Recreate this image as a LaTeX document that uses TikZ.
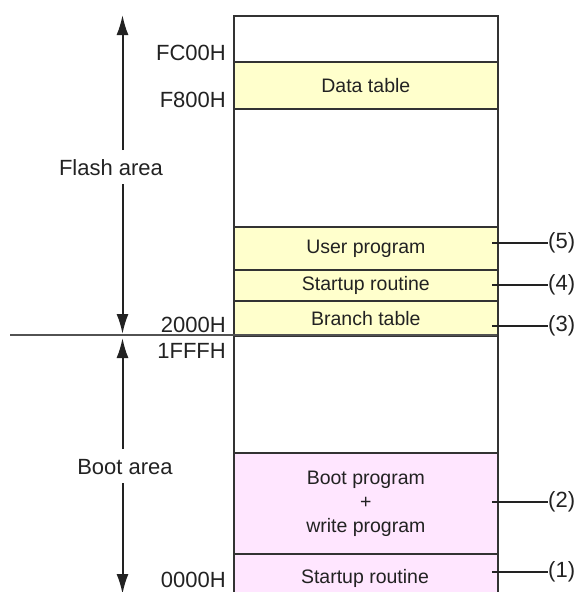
\documentclass[tikz,border=0pt]{standalone}
\usepackage{fontspec}
\setmainfont{Liberation Sans}
\usetikzlibrary{arrows.meta}
\definecolor{flashfill}{HTML}{FFFFCC}
\definecolor{bootfill}{HTML}{FFE6FF}
\definecolor{edge}{HTML}{333333}
\definecolor{ink}{HTML}{222222}
\begin{document}
\begin{tikzpicture}[x=1pt,y=-1pt,
  region/.style={draw=edge,line width=1.7pt,minimum width=264pt,anchor=north west,
    inner sep=0pt,align=center,text=ink,font=\fontsize{19.5}{24}\selectfont},
  addr/.style={anchor=east,inner sep=0pt,text=ink,font=\fontsize{22}{24}\selectfont},
  tag/.style={anchor=west,inner sep=0pt,text=ink,font=\fontsize{22}{24}\selectfont},
  arealabel/.style={inner sep=0pt,text=ink,font=\fontsize{22}{24}\selectfont},
  span/.style={line width=2pt,draw=ink,-{Latex[length=20pt,width=12pt]}},
  leader/.style={line width=1.8pt,draw=ink}]
\useasboundingbox (0,0) rectangle (584,592);
\begin{scope}
\clip (0,0) rectangle (584,592);
% memory map, top to bottom
\node[region,minimum height=46pt] (top) at (233,15) {};
\node[region,minimum height=47pt,fill=flashfill] (data) at (233,61) {Data table};
\node[region,minimum height=118pt] (gapA) at (233,108) {};
\node[region,minimum height=43pt,fill=flashfill] (user) at (233,226) {User program};
\node[region,minimum height=31pt,fill=flashfill] (start4) at (233,269) {Startup routine};
\node[region,minimum height=35pt,fill=flashfill] (branch) at (233,300) {Branch table};
\node[region,minimum height=117pt] (gapB) at (233,335) {};
\node[region,minimum height=101pt,fill=bootfill] (boot) at (233,452) {Boot program\\+\\write program};
\node[region,minimum height=50pt,fill=bootfill] (start1) at (233,553) {};
\node[inner sep=0pt,text=ink,font=\fontsize{19.5}{24}\selectfont] (start1txt) at (365,578) {Startup routine};
% area extents
\coordinate (flashTop) at (122.5,15);
\coordinate (flashBot) at (122.5,334);
\coordinate (bootTop) at (122.5,338);
\coordinate (bootBot) at (122.5,594);
\draw[span] (122.5,150) -- (flashTop);
\draw[span] (122.5,184) -- (flashBot);
\draw[span] (122.5,449) -- (bootTop);
\draw[span] (122.5,483) -- (bootBot);
\end{scope}
% flash / boot boundary
\coordinate (bndL) at (10,335);
\coordinate (bndR) at (497,335);
\draw[line width=2.2pt,draw=edge!85] (bndL) -- (bndR);
% addresses
\node[addr] (fc) at (226,53) {FC00H};
\node[addr] (f8) at (226,100) {F800H};
\node[addr] (a2000) at (226,325) {2000H};
\node[addr] (a1fff) at (226,351) {1FFFH};
\node[addr] (a0000) at (226,580) {0000H};
% area names
\node[arealabel] (flash) at (111,168) {Flash area};
\node[arealabel] (bootarea) at (125,467) {Boot area};
% numbered callouts
\node[tag] (n5) at (548,243) {(5)};
\node[tag] (n4) at (548,285) {(4)};
\node[tag] (n3) at (548,326) {(3)};
\node[tag] (n2) at (548,502) {(2)};
\node[tag] (n1) at (548,572) {(1)};
\coordinate (c5) at (492,243);
\coordinate (c4) at (492,285);
\coordinate (c3) at (492,326);
\coordinate (c2) at (492,502);
\coordinate (c1) at (492,572);
\draw[leader] (c5) -- (n5.west);
\draw[leader] (c4) -- (n4.west);
\draw[leader] (c3) -- (n3.west);
\draw[leader] (c2) -- (n2.west);
\draw[leader] (c1) -- (n1.west);
\end{tikzpicture}
\end{document}
